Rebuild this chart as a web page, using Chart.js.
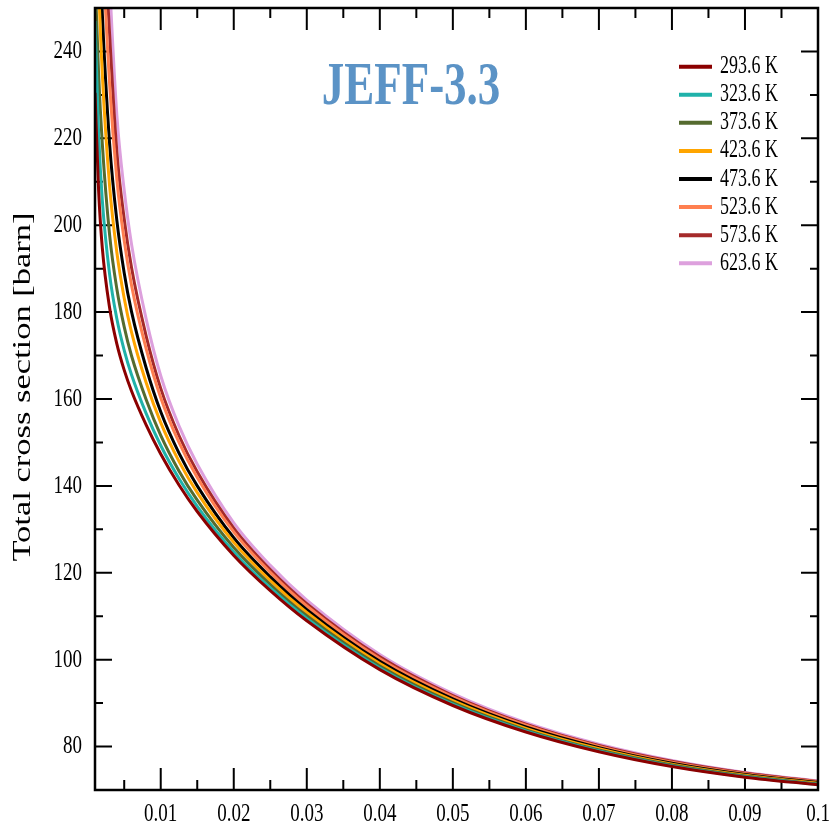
<!DOCTYPE html>
<html>
<head>
<meta charset="utf-8">
<script src="https://cdn.jsdelivr.net/npm/chart.js@4"></script>
<style>
  html, body { margin: 0; padding: 0; background: #fff; }
  #wrap { width: 832px; height: 828px; }
</style>
</head>
<body>
<div id="wrap"><canvas id="grafico" width="832" height="828"></canvas></div>
<script>
// energies in eV
var energies = [0.001, 0.0015, 0.002, 0.003, 0.004, 0.005, 0.006, 0.008, 0.01, 0.0125, 0.015,
                0.02, 0.025, 0.03, 0.04, 0.05, 0.06, 0.07, 0.08, 0.09, 0.1];

var temps = ["293.6 K", "323.6 K", "373.6 K", "423.6 K", "473.6 K", "523.6 K", "573.6 K", "623.6 K"];
var colores = ["#8b0000", "#20b2aa", "#556b2f", "#ffa500", "#000000", "#ff7f50", "#a52a2a", "#dda0dd"];

// total cross section [barn]
var sigma2936 = [230.5, 207.8, 194.8, 181.0, 172.65, 166.65, 161.85, 154.05, 147.35, 140.2, 134.1, 124.0, 115.9, 108.95, 97.7, 89.45, 83.35, 78.8, 75.4, 72.95, 71.2];
var sigma3236 = [247.0, 221.0, 205.8, 188.7, 178.4, 171.2, 165.6, 156.7, 149.3, 141.7, 135.3, 124.8, 116.5, 109.5, 98.1, 89.75, 83.6, 79.0, 75.55, 73.05, 71.3];
var sigma3736 = [258.0, 234.5, 218.8, 197.8, 185.25, 176.6, 169.95, 159.9, 151.65, 143.45, 136.7, 125.8, 117.3, 110.1, 98.55, 90.1, 83.85, 79.2, 75.75, 73.2, 71.4];
var sigma4236 = [290.5, 255.8, 234.8, 209.0, 193.65, 183.2, 175.4, 163.8, 154.55, 145.65, 138.45, 127.0, 118.2, 110.85, 99.1, 90.55, 84.2, 79.5, 75.95, 73.4, 71.55];
var sigma4736 = [311.5, 272.6, 248.8, 218.8, 201.0, 189.0, 180.1, 167.2, 157.05, 147.55, 140.0, 128.05, 119.05, 111.5, 99.6, 90.95, 84.5, 79.75, 76.15, 73.55, 71.7];
var sigma5236 = [338.5, 294.2, 266.8, 232.5, 210.45, 196.45, 186.2, 171.6, 160.3, 150.0, 141.95, 129.4, 120.1, 112.35, 100.2, 91.45, 84.9, 80.05, 76.4, 73.75, 71.85];
var sigma5736 = [356.5, 308.6, 278.8, 244.0, 216.75, 201.45, 190.25, 174.55, 162.45, 151.6, 143.25, 130.3, 120.75, 112.9, 100.65, 91.75, 85.15, 80.25, 76.6, 73.9, 71.95];
var sigma6236 = [380.5, 327.8, 294.8, 256.0, 225.15, 208.05, 195.65, 178.45, 165.35, 153.8, 145.0, 131.5, 121.7, 113.7, 101.2, 92.2, 85.5, 80.55, 76.8, 74.05, 72.1];

var series = [sigma2936, sigma3236, sigma3736, sigma4236, sigma4736, sigma5236, sigma5736, sigma6236];

var xMajor = [0.01, 0.02, 0.03, 0.04, 0.05, 0.06, 0.07, 0.08, 0.09, 0.1];
var xLabels = ["0.01", "0.02", "0.03", "0.04", "0.05", "0.06", "0.07", "0.08", "0.09", "0.1"];
var xMinor = [0.005, 0.015, 0.025, 0.035, 0.045, 0.055, 0.065, 0.075, 0.085, 0.095];
var yMajor = [80, 100, 120, 140, 160, 180, 200, 220, 240];
var yMinor = [90, 110, 130, 150, 170, 190, 210, 230];

var SERIF = '"Liberation Serif", "Times New Roman", serif';
var ESTIRA = 1.38; // glyphs in the figure are tall and narrow

function textoAlto(ctx, txt, x, y, align, font, color) {
    ctx.save();
    ctx.font = font;
    ctx.fillStyle = color || "#000";
    ctx.textAlign = align;
    ctx.textBaseline = "middle";
    ctx.translate(x, y);
    ctx.scale(1, ESTIRA);
    ctx.fillText(txt, 0, 0);
    ctx.restore();
}

var ejesPlugin = {
    id: "ejes",
    beforeDatasetsDraw: function (chart) {
        var ctx = chart.ctx, a = chart.chartArea;
        var sx = chart.scales.x, sy = chart.scales.y;
        ctx.save();
        ctx.strokeStyle = "#000";
        ctx.lineWidth = 2;
        ctx.beginPath();
        xMajor.forEach(function (v) {
            var px = sx.getPixelForValue(v);
            ctx.moveTo(px, a.bottom); ctx.lineTo(px, a.bottom - 22);
            ctx.moveTo(px, a.top); ctx.lineTo(px, a.top + 22);
        });
        xMinor.forEach(function (v) {
            var px = sx.getPixelForValue(v);
            ctx.moveTo(px, a.bottom); ctx.lineTo(px, a.bottom - 10);
            ctx.moveTo(px, a.top); ctx.lineTo(px, a.top + 10);
        });
        yMajor.forEach(function (v) {
            var py = sy.getPixelForValue(v);
            ctx.moveTo(a.left, py); ctx.lineTo(a.left + 17, py);
            ctx.moveTo(a.right, py); ctx.lineTo(a.right - 17, py);
        });
        yMinor.forEach(function (v) {
            var py = sy.getPixelForValue(v);
            ctx.moveTo(a.left, py); ctx.lineTo(a.left + 8, py);
            ctx.moveTo(a.right, py); ctx.lineTo(a.right - 8, py);
        });
        ctx.stroke();
        ctx.restore();
    },
    afterDatasetsDraw: function (chart) {
        var ctx = chart.ctx, a = chart.chartArea;
        var sx = chart.scales.x, sy = chart.scales.y;
        ctx.save();
        ctx.strokeStyle = "#000";
        ctx.lineWidth = 2.5;
        ctx.strokeRect(a.left, a.top, a.right - a.left, a.bottom - a.top);
        ctx.restore();

        // tick labels
        xMajor.forEach(function (v, i) {
            textoAlto(ctx, xLabels[i], sx.getPixelForValue(v), 814, "center", "19px " + SERIF);
        });
        yMajor.forEach(function (v) {
            textoAlto(ctx, String(v), 82, sy.getPixelForValue(v), "right", "19px " + SERIF);
        });

        // axis title
        ctx.save();
        ctx.translate(23, 387);
        ctx.rotate(-Math.PI / 2);
        ctx.scale(ESTIRA, 1);
        ctx.font = "25px " + SERIF;
        ctx.fillStyle = "#000";
        ctx.textAlign = "center";
        ctx.textBaseline = "middle";
        ctx.fillText("Total cross section [barn]", 0, 0);
        ctx.restore();

        // title inside the plot
        textoAlto(ctx, "JEFF-3.3", 411, 88, "center", "bold 45px " + SERIF, "#5b93c6");

        // legend
        chart.data.datasets.forEach(function (ds, i) {
            var y = 66.7 + 28.08 * i;
            ctx.save();
            ctx.strokeStyle = ds.borderColor;
            ctx.lineWidth = 4;
            ctx.beginPath();
            ctx.moveTo(679, y); ctx.lineTo(712, y);
            ctx.stroke();
            ctx.restore();
            textoAlto(ctx, ds.label, 720, y, "left", "18px " + SERIF);
        });
    }
};

document.addEventListener('DOMContentLoaded', function () {
    var ctx = document.getElementById("grafico").getContext("2d");
    var datasets = series.map(function (vals, k) {
        return {
            label: temps[k],
            data: energies.map(function (e, i) { return { x: e, y: vals[i] }; }),
            borderColor: colores[k],
            backgroundColor: colores[k],
            borderWidth: 3,
            pointRadius: 0,
            cubicInterpolationMode: "monotone",
            fill: false
        };
    });
    var myChart = new Chart(ctx, {
        type: "line",
        data: { datasets: datasets },
        plugins: [ejesPlugin],
        options: {
            responsive: false,
            animation: false,
            layout: { padding: { left: 95, top: 8, right: 14, bottom: 38 } },
            plugins: {
                legend: { display: false },
                tooltip: { enabled: false }
            },
            scales: {
                x: { type: "linear", min: 0.001, max: 0.1, display: false },
                y: { type: "linear", min: 70, max: 250, display: false }
            }
        }
    });
});
</script>
</body>
</html>
